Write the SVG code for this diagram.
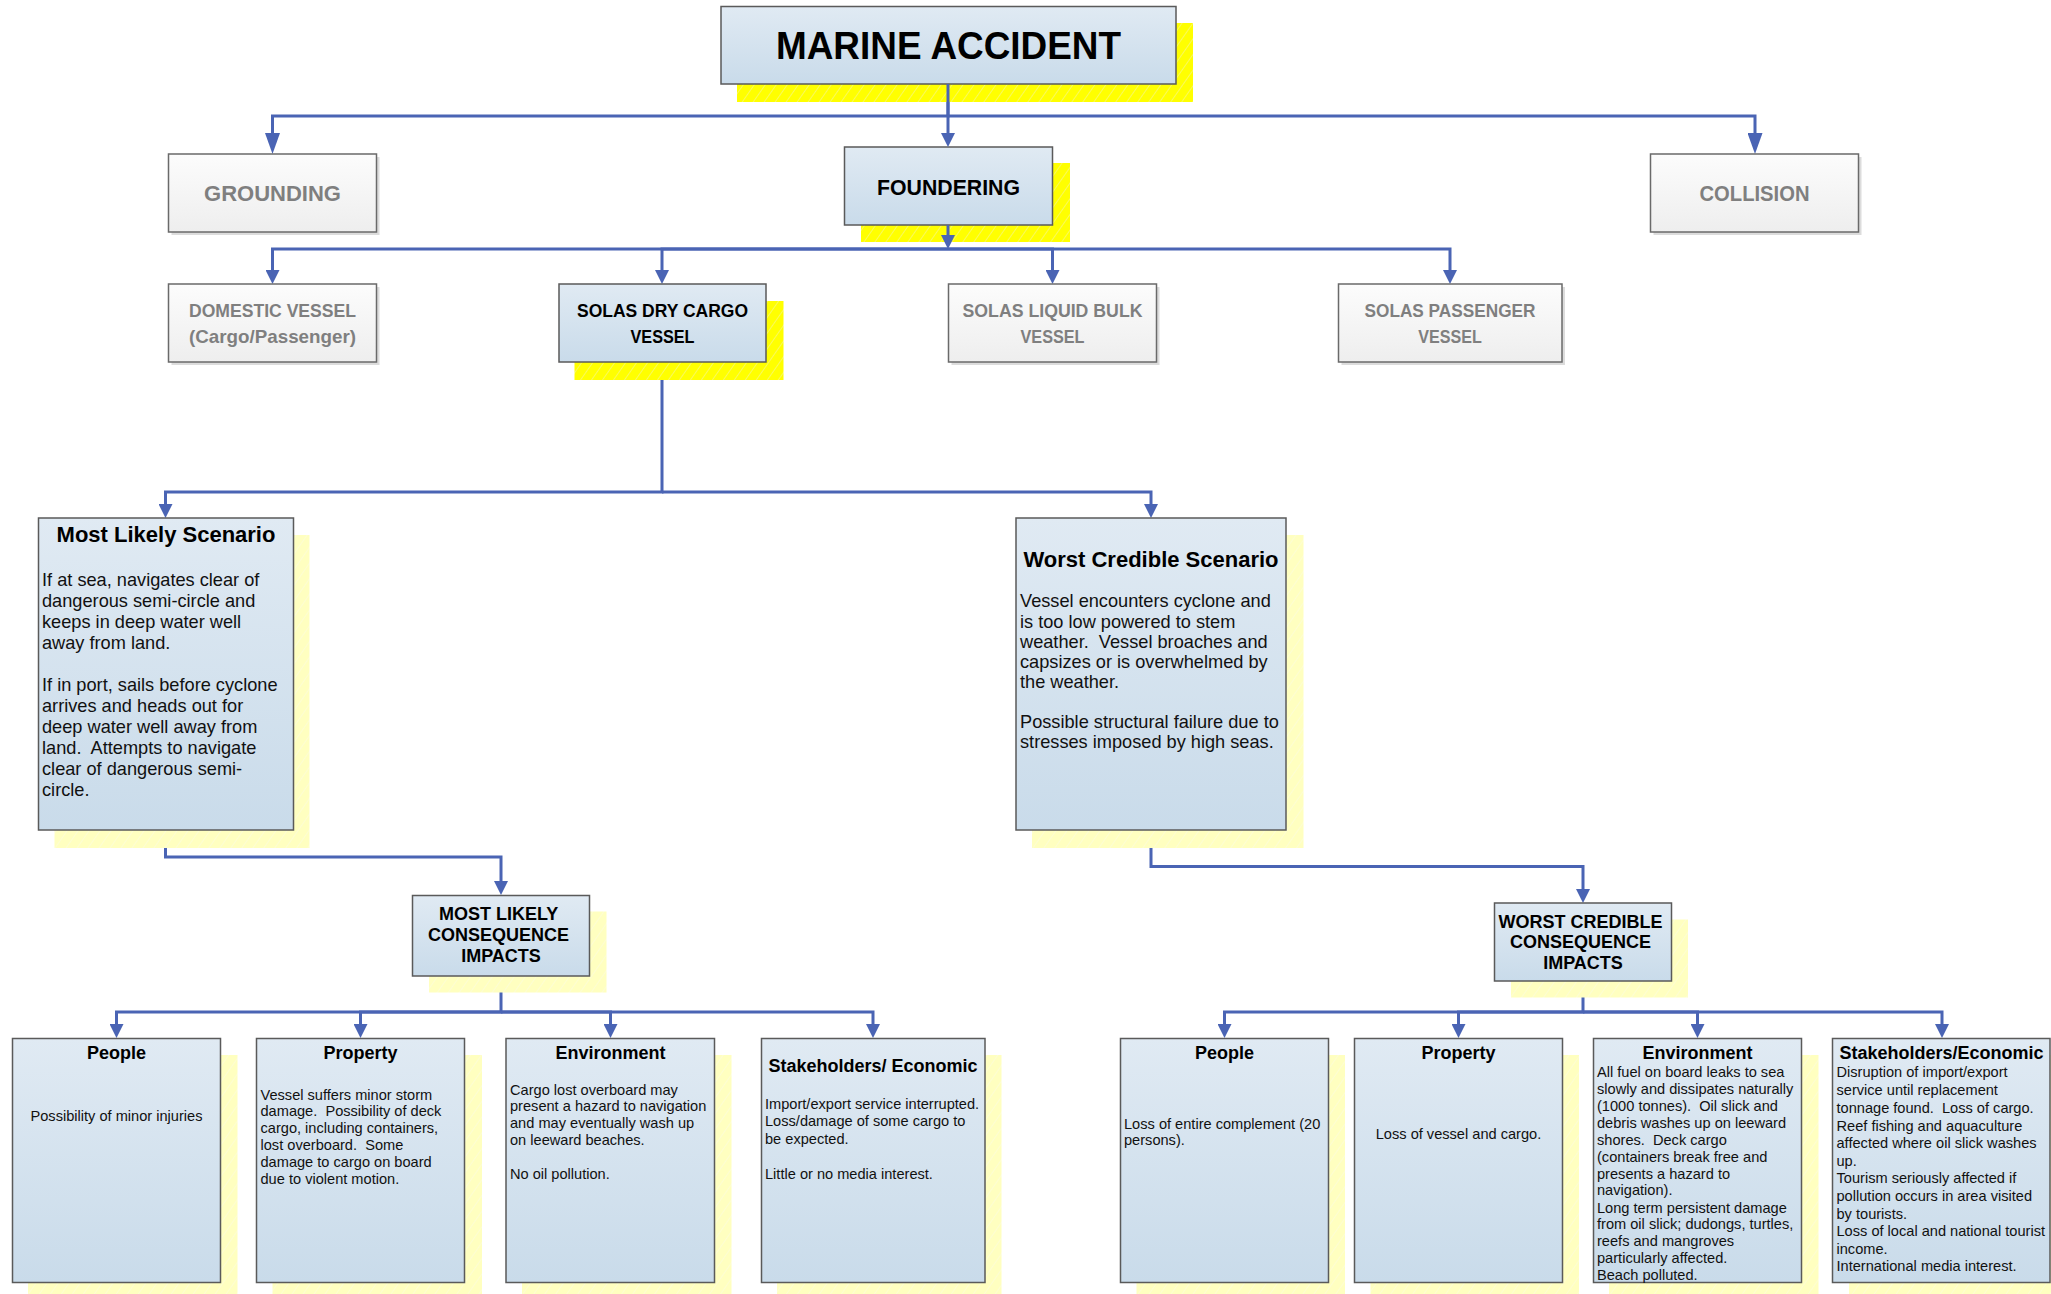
<svg xmlns="http://www.w3.org/2000/svg" width="2051" height="1294" viewBox="0 0 2051 1294">
<defs>
<style>
.blue{fill:url(#gBlue);stroke:#5a5a5a;stroke-width:1.5}
.gray{fill:url(#gGray);stroke:#6a6a6a;stroke-width:1.5}
.gsh{fill:#dcdcdc}
.ysh{fill:url(#hatchY)}
.psh{fill:url(#hatchP)}
.cal{font-family:"Liberation Sans",Arial,sans-serif;font-weight:bold;text-anchor:middle}
.calg{fill:#7f7f7f}
.calb{fill:#000}
.t{font-family:"Liberation Sans",Arial,sans-serif;fill:#111;white-space:pre}
.tb{font-family:"Liberation Sans",Arial,sans-serif;font-weight:bold;fill:#000;text-anchor:middle}
.conn{fill:none;stroke:#4a64b4;stroke-width:3}
</style>
<linearGradient id="gBlue" x1="0" y1="0" x2="0" y2="1">
<stop offset="0" stop-color="#e0eaf3"/><stop offset="1" stop-color="#c9dbea"/>
</linearGradient>
<linearGradient id="gGray" x1="0" y1="0" x2="0" y2="1">
<stop offset="0" stop-color="#fcfcfc"/><stop offset="1" stop-color="#eeeeee"/>
</linearGradient>
<pattern id="hatchY" patternUnits="userSpaceOnUse" width="9" height="9" patternTransform="rotate(35)">
<rect width="9" height="9" fill="#ffff00"/><line x1="0" y1="0" x2="0" y2="9" stroke="#f4f4b8" stroke-width="1"/>
</pattern>
<pattern id="hatchP" patternUnits="userSpaceOnUse" width="9" height="9" patternTransform="rotate(35)">
<rect width="9" height="9" fill="#ffffc0"/><line x1="0" y1="0" x2="0" y2="9" stroke="#fbfbe6" stroke-width="1"/>
</pattern>
<marker id="arr" markerUnits="userSpaceOnUse" viewBox="0 0 14 14" refX="4" refY="7" markerWidth="14" markerHeight="14" orient="auto">
<path d="M0,0 L14,7 L0,14 z" fill="#4a64b4"/>
</marker>
<marker id="arrL" markerUnits="userSpaceOnUse" viewBox="0 0 21 15" refX="4" refY="7.5" markerWidth="21" markerHeight="15" orient="auto">
<path d="M0,0 L21,7.5 L0,15 z" fill="#4a64b4"/>
</marker>
</defs>
<rect width="2051" height="1294" fill="#fff"/>

<g id="connectors">
<path class="conn" d="M948,84 V116 H272.5 V137" marker-end="url(#arrL)"/>
<path class="conn" d="M948,116 H1755 V137" marker-end="url(#arrL)"/>
</g>

<g id="n-marine">
<rect class="ysh" x="737" y="23" width="456" height="79"/>
<rect class="blue" x="721" y="6.5" width="455" height="77.5"/>
<text class="cal calb" x="948.5" y="59" font-size="39" textLength="345" lengthAdjust="spacingAndGlyphs">MARINE ACCIDENT</text>
</g>

<g id="n-grounding">
<rect class="gsh" x="171.5" y="157" width="208" height="78"/>
<rect class="gray" x="168.5" y="154" width="208" height="78"/>
<text class="cal calg" x="272.5" y="200.5" font-size="22" textLength="137" lengthAdjust="spacingAndGlyphs">GROUNDING</text>
</g>

<g id="n-foundering">
<rect class="ysh" x="861" y="163" width="209" height="79"/>
<rect class="blue" x="844.5" y="147" width="208" height="78"/>
<text class="cal calb" x="948.5" y="194.5" font-size="22" textLength="143" lengthAdjust="spacingAndGlyphs">FOUNDERING</text>
</g>

<g id="n-collision">
<rect class="gsh" x="1653.5" y="157" width="208" height="78"/>
<rect class="gray" x="1650.5" y="154" width="208" height="78"/>
<text class="cal calg" x="1754.5" y="200.5" font-size="22" textLength="110" lengthAdjust="spacingAndGlyphs">COLLISION</text>
</g>

<g id="connectors2">
<path class="conn" d="M948,225 V239" marker-end="url(#arr)"/>
<path class="conn" d="M948,84 V137" marker-end="url(#arr)"/>
<path class="conn" d="M948,249 H272.5 V274" marker-end="url(#arr)"/>
<path class="conn" d="M948,249 H662 V274" marker-end="url(#arr)"/>
<path class="conn" d="M948,249 H1052.5 V274" marker-end="url(#arr)"/>
<path class="conn" d="M948,249 H1450 V274" marker-end="url(#arr)"/>
<path class="conn" d="M662,362 V492 H165.5 V508" marker-end="url(#arr)"/>
<path class="conn" d="M662,492 H1151 V508" marker-end="url(#arr)"/>
<path class="conn" d="M165.5,830 V857 H501 V885" marker-end="url(#arr)"/>
<path class="conn" d="M1151,830 V866.5 H1583 V893" marker-end="url(#arr)"/>
<path class="conn" d="M501,976 V1012 H116.5 V1028" marker-end="url(#arr)"/>
<path class="conn" d="M501,1012 H360.5 V1028" marker-end="url(#arr)"/>
<path class="conn" d="M501,1012 H610.5 V1028" marker-end="url(#arr)"/>
<path class="conn" d="M501,1012 H873 V1028" marker-end="url(#arr)"/>
<path class="conn" d="M1583,981 V1012 H1224.5 V1028" marker-end="url(#arr)"/>
<path class="conn" d="M1583,1012 H1458.5 V1028" marker-end="url(#arr)"/>
<path class="conn" d="M1583,1012 H1697.5 V1028" marker-end="url(#arr)"/>
<path class="conn" d="M1583,1012 H1942 V1028" marker-end="url(#arr)"/>
</g>

<g id="n-domestic">
<rect class="gsh" x="171.5" y="287" width="208" height="78"/>
<rect class="gray" x="168.5" y="284" width="208" height="78"/>
<text class="cal calg" x="272.5" y="316.5" font-size="18.5" textLength="167" lengthAdjust="spacingAndGlyphs">DOMESTIC VESSEL</text>
<text class="cal calg" x="272.5" y="343" font-size="18.5" textLength="167" lengthAdjust="spacingAndGlyphs">(Cargo/Passenger)</text>
</g>

<g id="n-drycargo">
<rect class="ysh" x="574.5" y="301" width="209" height="79"/>
<rect class="blue" x="559" y="284" width="207" height="78"/>
<text class="cal calb" x="662.5" y="316.5" font-size="18.5" textLength="171" lengthAdjust="spacingAndGlyphs">SOLAS DRY CARGO</text>
<text class="cal calb" x="662.5" y="343" font-size="18.5" textLength="64" lengthAdjust="spacingAndGlyphs">VESSEL</text>
</g>

<g id="n-liquidbulk">
<rect class="gsh" x="951.5" y="287" width="208" height="78"/>
<rect class="gray" x="948.5" y="284" width="208" height="78"/>
<text class="cal calg" x="1052.5" y="316.5" font-size="18.5" textLength="180" lengthAdjust="spacingAndGlyphs">SOLAS LIQUID BULK</text>
<text class="cal calg" x="1052.5" y="343" font-size="18.5" textLength="64" lengthAdjust="spacingAndGlyphs">VESSEL</text>
</g>

<g id="n-passenger">
<rect class="gsh" x="1341.5" y="287" width="223.5" height="78"/>
<rect class="gray" x="1338.5" y="284" width="223.5" height="78"/>
<text class="cal calg" x="1450" y="316.5" font-size="18.5" textLength="171" lengthAdjust="spacingAndGlyphs">SOLAS PASSENGER</text>
<text class="cal calg" x="1450" y="343" font-size="18.5" textLength="63.5" lengthAdjust="spacingAndGlyphs">VESSEL</text>
</g>

<g id="n-mostlikely">
<rect class="psh" x="54.5" y="535" width="255" height="313"/>
<rect class="blue" x="38.5" y="518" width="255" height="312"/>
<text class="tb" x="166" y="541.5" font-size="22">Most Likely Scenario</text>
<text class="t" font-size="18.2">
<tspan x="42" y="586">If at sea, navigates clear of</tspan>
<tspan x="42" y="607">dangerous semi-circle and</tspan>
<tspan x="42" y="628">keeps in deep water well</tspan>
<tspan x="42" y="649">away from land.</tspan>
<tspan x="42" y="691">If in port, sails before cyclone</tspan>
<tspan x="42" y="712">arrives and heads out for</tspan>
<tspan x="42" y="733">deep water well away from</tspan>
<tspan x="42" y="754">land.  Attempts to navigate</tspan>
<tspan x="42" y="775">clear of dangerous semi-</tspan>
<tspan x="42" y="796">circle.</tspan>
</text>
</g>

<g id="n-worst">
<rect class="psh" x="1032" y="535" width="271.5" height="313"/>
<rect class="blue" x="1016" y="518" width="270" height="312"/>
<text class="tb" x="1151" y="566.5" font-size="22">Worst Credible Scenario</text>
<text class="t" font-size="18.2">
<tspan x="1020" y="607">Vessel encounters cyclone and</tspan>
<tspan x="1020" y="627.5">is too low powered to stem</tspan>
<tspan x="1020" y="647.5">weather.  Vessel broaches and</tspan>
<tspan x="1020" y="668">capsizes or is overwhelmed by</tspan>
<tspan x="1020" y="688">the weather.</tspan>
<tspan x="1020" y="728">Possible structural failure due to</tspan>
<tspan x="1020" y="748">stresses imposed by high seas.</tspan>
</text>
</g>

<g id="n-mlci">
<rect class="psh" x="429" y="911.5" width="177.5" height="81"/>
<rect class="blue" x="412.5" y="895.5" width="177" height="80.5"/>
<text class="tb" font-size="18">
<tspan x="501" y="920">MOST LIKELY</tspan>
<tspan x="501" y="940.5">CONSEQUENCE</tspan>
<tspan x="501" y="961.5">IMPACTS</tspan>
</text>
</g>

<g id="n-wcci">
<rect class="psh" x="1511" y="919.5" width="177" height="78"/>
<rect class="blue" x="1494.5" y="903" width="177" height="78"/>
<text class="tb" font-size="18">
<tspan x="1583" y="927.5">WORST CREDIBLE</tspan>
<tspan x="1583" y="948">CONSEQUENCE</tspan>
<tspan x="1583" y="968.5">IMPACTS</tspan>
</text>
</g>

<g id="n-ml-people">
<rect class="psh" x="28" y="1055" width="209.5" height="245"/>
<rect class="blue" x="12.5" y="1038.5" width="208" height="244"/>
<text class="tb" x="116.5" y="1059" font-size="18">People</text>
<text class="t" x="116.5" y="1121" font-size="14.6" text-anchor="middle">Possibility of minor injuries</text>
</g>

<g id="n-ml-property">
<rect class="psh" x="272.5" y="1055" width="209.5" height="245"/>
<rect class="blue" x="256.5" y="1038.5" width="208" height="244"/>
<text class="tb" x="360.5" y="1059" font-size="18">Property</text>
<text class="t" font-size="14.6">
<tspan x="260.5" y="1099.5">Vessel suffers minor storm</tspan>
<tspan x="260.5" y="1116.3">damage.  Possibility of deck</tspan>
<tspan x="260.5" y="1133.1">cargo, including containers,</tspan>
<tspan x="260.5" y="1149.9">lost overboard.  Some</tspan>
<tspan x="260.5" y="1166.7">damage to cargo on board</tspan>
<tspan x="260.5" y="1183.5">due to violent motion.</tspan>
</text>
</g>

<g id="n-ml-environment">
<rect class="psh" x="522" y="1055" width="209.5" height="245"/>
<rect class="blue" x="506" y="1038.5" width="208.5" height="244"/>
<text class="tb" x="610.5" y="1059" font-size="18">Environment</text>
<text class="t" font-size="14.6">
<tspan x="510" y="1094.5">Cargo lost overboard may</tspan>
<tspan x="510" y="1111.3">present a hazard to navigation</tspan>
<tspan x="510" y="1128.1">and may eventually wash up</tspan>
<tspan x="510" y="1144.9">on leeward beaches.</tspan>
<tspan x="510" y="1178.5">No oil pollution.</tspan>
</text>
</g>

<g id="n-ml-stakeholders">
<rect class="psh" x="777" y="1055" width="224.5" height="245"/>
<rect class="blue" x="761.5" y="1038.5" width="223.5" height="244"/>
<text class="tb" x="873" y="1072" font-size="18">Stakeholders/ Economic</text>
<text class="t" font-size="14.6">
<tspan x="765" y="1108.5">Import/export service interrupted.</tspan>
<tspan x="765" y="1126">Loss/damage of some cargo to</tspan>
<tspan x="765" y="1143.5">be expected.</tspan>
<tspan x="765" y="1178.5">Little or no media interest.</tspan>
</text>
</g>

<g id="n-wc-people">
<rect class="psh" x="1136.5" y="1055" width="208.5" height="245"/>
<rect class="blue" x="1120.5" y="1038.5" width="208" height="244"/>
<text class="tb" x="1224.5" y="1059" font-size="18">People</text>
<text class="t" font-size="14.6">
<tspan x="1124" y="1128.5">Loss of entire complement (20</tspan>
<tspan x="1124" y="1144.5">persons).</tspan>
</text>
</g>

<g id="n-wc-property">
<rect class="psh" x="1370.5" y="1055" width="208.5" height="245"/>
<rect class="blue" x="1354.5" y="1038.5" width="208" height="244"/>
<text class="tb" x="1458.5" y="1059" font-size="18">Property</text>
<text class="t" x="1458.5" y="1138.5" font-size="14.6" text-anchor="middle">Loss of vessel and cargo.</text>
</g>

<g id="n-wc-environment">
<rect class="psh" x="1609" y="1055" width="209.5" height="245"/>
<rect class="blue" x="1593.5" y="1038.5" width="208" height="244"/>
<text class="tb" x="1697.5" y="1059" font-size="18">Environment</text>
<text class="t" font-size="14.6">
<tspan x="1597" y="1077">All fuel on board leaks to sea</tspan>
<tspan x="1597" y="1094">slowly and dissipates naturally</tspan>
<tspan x="1597" y="1111">(1000 tonnes).  Oil slick and</tspan>
<tspan x="1597" y="1128">debris washes up on leeward</tspan>
<tspan x="1597" y="1144.5">shores.  Deck cargo</tspan>
<tspan x="1597" y="1161.5">(containers break free and</tspan>
<tspan x="1597" y="1178.5">presents a hazard to</tspan>
<tspan x="1597" y="1195">navigation).</tspan>
<tspan x="1597" y="1212.5">Long term persistent damage</tspan>
<tspan x="1597" y="1229">from oil slick; dudongs, turtles,</tspan>
<tspan x="1597" y="1246">reefs and mangroves</tspan>
<tspan x="1597" y="1263">particularly affected.</tspan>
<tspan x="1597" y="1279.5">Beach polluted.</tspan>
</text>
</g>

<g id="n-wc-stakeholders">
<rect class="psh" x="1849" y="1055" width="210" height="245"/>
<rect class="blue" x="1832.5" y="1038.5" width="217.5" height="244"/>
<text class="tb" x="1941.5" y="1059" font-size="18">Stakeholders/Economic</text>
<text class="t" font-size="14.6">
<tspan x="1836.5" y="1077">Disruption of import/export</tspan>
<tspan x="1836.5" y="1095">service until replacement</tspan>
<tspan x="1836.5" y="1113">tonnage found.  Loss of cargo.</tspan>
<tspan x="1836.5" y="1130.5">Reef fishing and aquaculture</tspan>
<tspan x="1836.5" y="1148">affected where oil slick washes</tspan>
<tspan x="1836.5" y="1165.5">up.</tspan>
<tspan x="1836.5" y="1183">Tourism seriously affected if</tspan>
<tspan x="1836.5" y="1201">pollution occurs in area visited</tspan>
<tspan x="1836.5" y="1218.5">by tourists.</tspan>
<tspan x="1836.5" y="1236">Loss of local and national tourist</tspan>
<tspan x="1836.5" y="1254">income.</tspan>
<tspan x="1836.5" y="1271">International media interest.</tspan>
</text>
</g>
</svg>
